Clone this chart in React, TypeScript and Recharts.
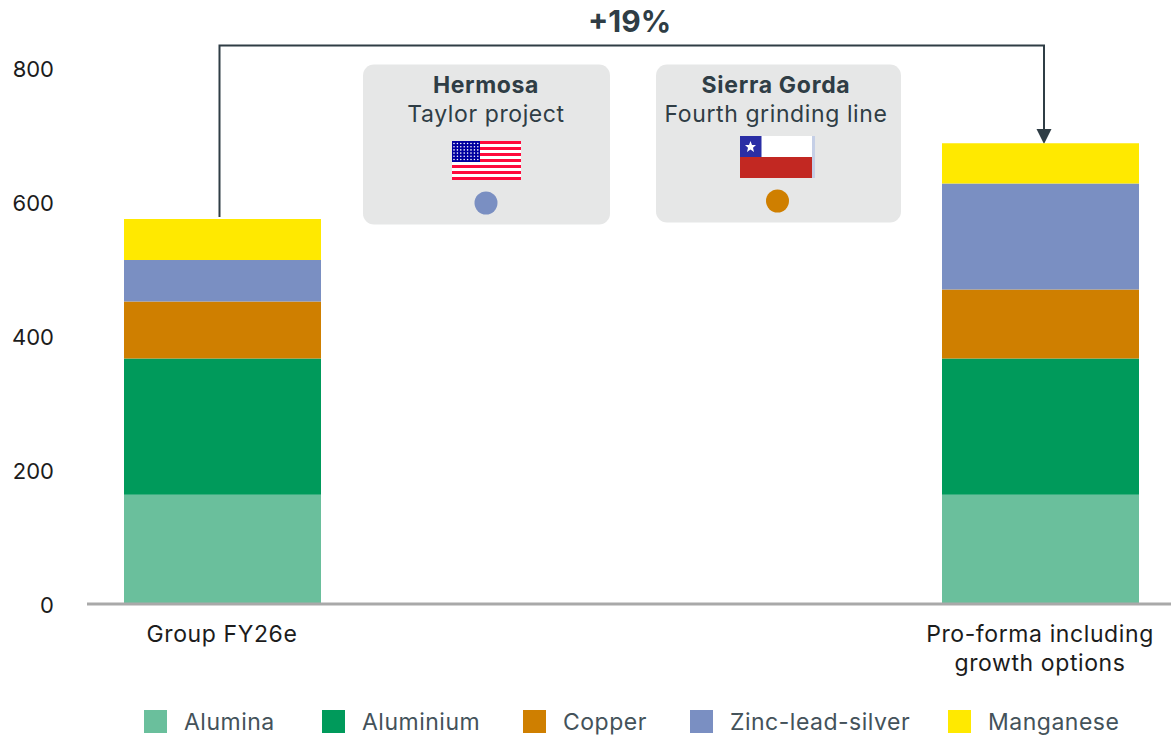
import { Bar, BarChart, Legend, XAxis, YAxis } from 'recharts'

const categories = ['Group FY26e', 'Pro-forma including growth options']
const alumina = [163, 163]
const aluminium = [203, 203]
const copper = [85, 103]
const zincLeadSilver = [62, 158]
const manganese = [61, 60]
const yTicks = [0, 200, 400, 600, 800]

const seriesNames = ['Alumina', 'Aluminium', 'Copper', 'Zinc-lead-silver', 'Manganese']
const seriesValues = [alumina, aluminium, copper, zincLeadSilver, manganese]
const seriesColors = ['#6abf9c', '#009a5b', '#cf7f00', '#7a8fc2', '#ffe900']

const tickLines: Record<string, string[]> = {
  'Group FY26e': ['Group FY26e'],
  'Pro-forma including growth options': ['Pro-forma including', 'growth options'],
}

const data = categories.map((name, i) => {
  const row: Record<string, string | number> = { name }
  seriesNames.forEach((s, j) => {
    row[s] = seriesValues[j][i]
  })
  return row
})

const FONT = 'Inter, "Noto Sans", sans-serif'
const DARK = '#2f3d45'
const CARD = '#e6e7e7'
const LEGEND_LEFT = [144, 322, 523, 690, 948] // the swatches are not evenly spaced in the original

// eslint-disable-next-line @typescript-eslint/no-explicit-any
function CategoryTick({ x, y, payload }: any) {
  const lines = tickLines[payload.value] ?? [payload.value]
  return (
    <g>
      {lines.map((line, i) => (
        <text key={line} x={x} y={y + 29.5 + i * 29} textAnchor="middle" fontFamily={FONT} fontSize={23} letterSpacing={0.6} fill="#1c1c1c">
          {line}
        </text>
      ))}
    </g>
  )
}

function LegendRow() {
  return (
    <div style={{ position: 'relative', height: 42, marginTop: 7, fontFamily: FONT, fontSize: 23, letterSpacing: 0.5, color: '#44525a' }}>
      {seriesNames.map((s, i) => (
        <span key={s} style={{ position: 'absolute', left: LEGEND_LEFT[i], top: 0, height: 42, display: 'flex', alignItems: 'center', gap: 17, whiteSpace: 'nowrap' }}>
          <span style={{ width: 23, height: 23, background: seriesColors[i], display: 'inline-block' }} />
          {s}
        </span>
      ))}
    </div>
  )
}

function UsFlag() {
  const stripes = Array.from({ length: 13 }, (_, i) => i)
  const rows = [0, 1, 2, 3, 4, 5]
  const cols = [0, 1, 2, 3, 4, 5, 6, 7]
  return (
    <g>
      <rect x={452} y={141} width={69} height={39} fill="#fff" />
      {stripes.filter((i) => i % 2 === 0).map((i) => (
        <rect key={i} x={452} y={141 + i * 3} width={69} height={3} fill="#ff0a3c" />
      ))}
      <rect x={452} y={141} width={28} height={21} fill="#0000a0" />
      {rows.map((r) =>
        cols.map((c) => <circle key={`${r}-${c}`} cx={454 + c * 3.4} cy={143.5 + r * 3.2} r={0.8} fill="#fff" />),
      )}
    </g>
  )
}

function ChileFlag() {
  return (
    <g>
      <rect x={812} y={136} width={3} height={42} fill="#c5cfe6" />
      <rect x={740} y={136} width={72} height={21} fill="#fff" />
      <rect x={740} y={157} width={72} height={21} fill="#c22822" />
      <rect x={740} y={136} width={21.5} height={21} fill="#2a2ea5" />
      <polygon points="750.5,141 752,145 756,145 753,147.8 754,152 750.5,149.5 747,152 748,147.8 745,145 749,145" fill="#fff" />
    </g>
  )
}

function Annotations() {
  return (
    <g fontFamily={FONT} fill={DARK}>
      <path d="M219.5 217 V45.5 H1044 V130" fill="none" stroke={DARK} strokeWidth={2} />
      <polygon points="1036.5,129 1051.5,129 1044,144" fill={DARK} />
      <text x={629.5} y={32} textAnchor="middle" fontSize={30} fontWeight={700}>+19%</text>

      <rect x={363} y={64.5} width={247} height={160} rx={11} fill={CARD} />
      <text x={486} y={93} textAnchor="middle" fontSize={23} fontWeight={700} letterSpacing={0.6}>Hermosa</text>
      <text x={486} y={122} textAnchor="middle" fontSize={23} letterSpacing={0.6}>Taylor project</text>
      <UsFlag />
      <circle cx={486} cy={203} r={11.5} fill="#7a8fc2" />

      <rect x={656} y={64.5} width={245} height={158} rx={11} fill={CARD} />
      <text x={776} y={93} textAnchor="middle" fontSize={23} fontWeight={700} letterSpacing={0.7}>Sierra Gorda</text>
      <text x={776} y={122} textAnchor="middle" fontSize={23} letterSpacing={0.6}>Fourth grinding line</text>
      <ChileFlag />
      <circle cx={777.5} cy={201} r={11.5} fill="#cf7f00" />
    </g>
  )
}

export default function App() {
  return (
    <div style={{ width: 1171, height: 736, position: 'relative', overflow: 'hidden' }}>
      <style>{'html,body{margin:0;padding:0;overflow:hidden}'}</style>
      <BarChart
        width={1171}
        height={736}
        data={data}
        barCategoryGap={0}
        margin={{ top: 67.5, right: 0, bottom: 0, left: 0 }}
      >
        <XAxis
          dataKey="name"
          scale="point"
          padding={{ left: 135, right: 131 }}
          height={89.5}
          tickLine={false}
          axisLine={{ stroke: '#a9a9a9', strokeWidth: 3 }}
          interval={0}
          tick={<CategoryTick />}
        />
        <YAxis
          width={87}
          domain={[0, 800]}
          ticks={yTicks}
          axisLine={false}
          tickLine={false}
          tickMargin={27}
          dy={1.5}
          tick={{ fontFamily: FONT, fontSize: 22, fill: '#1c1c1c' }}
        />
        <Legend verticalAlign="bottom" height={42.5} content={<LegendRow />} wrapperStyle={{ left: 0, width: 1171 }} />
        {seriesNames.map((s, i) => (
          <Bar key={s} dataKey={s} stackId="a" fill={seriesColors[i]} barSize={197} isAnimationActive={false} />
        ))}
        <Annotations />
      </BarChart>
    </div>
  )
}
